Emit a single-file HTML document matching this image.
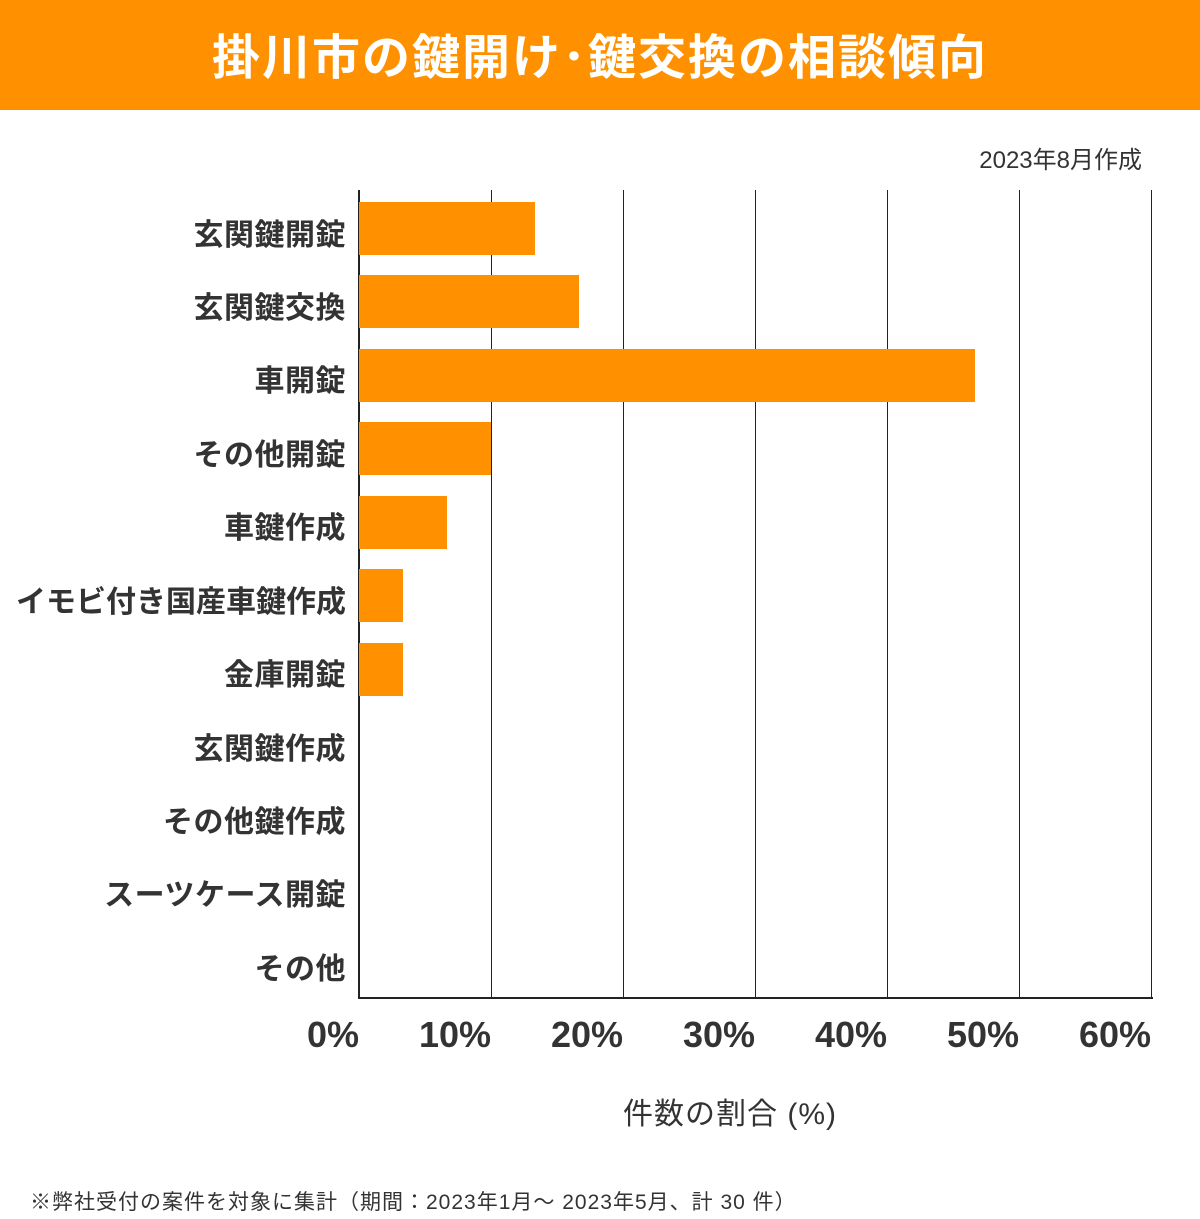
<!DOCTYPE html>
<html><head><meta charset="utf-8"><style>
body{margin:0;width:1200px;height:1219px;background:#fff;position:relative;overflow:hidden;font-family:"Liberation Sans","Noto Sans CJK JP",sans-serif;color:#333}
.hdr{position:absolute;left:0;top:0;width:1200px;height:110px;background:#FF9100;color:#fff;font-size:48px;font-weight:bold;text-align:center;line-height:118px;letter-spacing:2px}
.t{position:absolute;white-space:nowrap}
.cat{position:absolute;right:854px;font-size:30px;font-weight:bold;line-height:40px;white-space:nowrap;letter-spacing:0.5px}
.tick{position:absolute;top:1013px;font-size:36px;font-weight:bold;line-height:44px;text-align:right;width:120px}
.g{position:absolute;top:190px;height:808px;width:1px;background:#222}
.bar{position:absolute;left:359px;height:53px;background:#FF9100}
</style></head><body>
<div class="hdr">掛川市の鍵開け･鍵交換の相談傾向</div>
<div class="t" style="right:58px;top:140px;font-size:24px">2023年8月作成</div>
<div class="g" style="left:358px;width:2px"></div>
<div class="g" style="left:491px"></div>
<div class="g" style="left:623px"></div>
<div class="g" style="left:755px"></div>
<div class="g" style="left:887px"></div>
<div class="g" style="left:1019px"></div>
<div class="g" style="left:1151px"></div>
<div style="position:absolute;left:358px;top:997px;width:795px;height:2px;background:#222"></div>
<div class="bar" style="top:202px;width:176px"></div>
<div class="bar" style="top:275px;width:220px"></div>
<div class="bar" style="top:349px;width:616px"></div>
<div class="bar" style="top:422px;width:132px"></div>
<div class="bar" style="top:496px;width:88px"></div>
<div class="bar" style="top:569px;width:44px"></div>
<div class="bar" style="top:643px;width:44px"></div>
<div class="cat" style="top:216px">玄関鍵開錠</div>
<div class="cat" style="top:289px">玄関鍵交換</div>
<div class="cat" style="top:362px">車開錠</div>
<div class="cat" style="top:436px">その他開錠</div>
<div class="cat" style="top:509px">車鍵作成</div>
<div class="cat" style="top:583px;letter-spacing:0">イモビ付き国産車鍵作成</div>
<div class="cat" style="top:656px">金庫開錠</div>
<div class="cat" style="top:730px">玄関鍵作成</div>
<div class="cat" style="top:803px">その他鍵作成</div>
<div class="cat" style="top:876px">スーツケース開錠</div>
<div class="cat" style="top:950px">その他</div>
<div class="tick" style="left:239px">0%</div>
<div class="tick" style="left:371px">10%</div>
<div class="tick" style="left:503px">20%</div>
<div class="tick" style="left:635px">30%</div>
<div class="tick" style="left:767px">40%</div>
<div class="tick" style="left:899px">50%</div>
<div class="tick" style="left:1031px">60%</div>
<div class="t" style="left:623px;top:1089px;font-size:30px;letter-spacing:1px">件数の割合 (%)</div>
<div class="t" style="left:30px;top:1186px;font-size:21px;letter-spacing:1px">※弊社受付の案件を対象に集計（期間：2023年1月～ 2023年5月、計 30 件）</div>
</body></html>
